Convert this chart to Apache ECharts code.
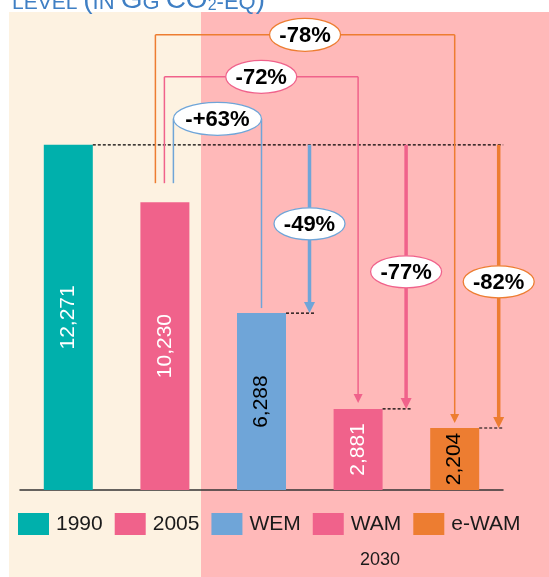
<!DOCTYPE html>
<html>
<head>
<meta charset="utf-8">
<script src="https://cdn.jsdelivr.net/npm/echarts@6/dist/echarts.min.js"></script>
<style>
html, body { margin: 0; padding: 0; background: #fff; }
#main { width: 549px; height: 577px; }
</style>
</head>
<body>
<div id="main"></div>
<script>
// values in Gg CO2-eq
var categories = ['1990', '2005', 'WEM', 'WAM', 'e-WAM'];
var emissions = [12271, 10230, 6288, 2881, 2204];
var barColors = ['#00b0ac', '#f0628b', '#6fa5d8', '#f0628b', '#ed7d31'];
var labelColors = ['#fff', '#fff', '#000', '#fff', '#000'];
// reductions of the 2030 scenarios (WEM, WAM, e-WAM)
var vs1990 = ['-49%', '-77%', '-82%'];
var vs2005 = ['-+63%', '-72%', '-78%'];
var groupLabel = '2030';

var FONT = '"Liberation Sans", Arial, sans-serif';

var chart = echarts.init(document.getElementById('main'));

var series = categories.map(function (name, i) {
  var d = categories.map(function (c, j) { return j === i ? emissions[i] : '-'; });
  return {
    name: name,
    type: 'bar',
    stack: 'all',
    barWidth: 49,
    data: d,
    itemStyle: { color: barColors[i] },
    label: {
      show: true,
      position: 'inside',
      rotate: 90,
      fontSize: 21,
      fontFamily: FONT,
      color: labelColors[i],
      formatter: function (p) { return Number(p.value).toLocaleString('en-US'); }
    }
  };
});

var option = {
  animation: false,
  textStyle: { fontFamily: FONT },
  grid: { left: 20, right: 46, top: 68, bottom: 87 },
  xAxis: {
    type: 'category',
    data: categories,
    axisLine: { show: true, lineStyle: { color: '#333', width: 1.5 } },
    axisTick: { show: false },
    axisLabel: { show: false }
  },
  yAxis: { type: 'value', min: 0, max: 15000, show: false },
  legend: {
    data: categories,
    left: 18,
    top: 513,
    padding: 0,
    icon: 'rect',
    itemWidth: 31,
    itemHeight: 22,
    itemGap: 12,
    textStyle: { fontSize: 21, color: '#1a1a1a', fontFamily: FONT, padding: [0, 0, 0, 2] }
  },
  series: series
};
chart.setOption(option);

// annotations placed from the axis scales
var pts = emissions.map(function (v, i) { return chart.convertToPixel({ gridIndex: 0 }, [i, v]); });
var g = [];
g.push({ type: 'rect', z: -10, shape: { x: 9, y: 12, width: 192, height: 565 }, style: { fill: '#fdf2e1' } });
g.push({ type: 'rect', z: -10, shape: { x: 201, y: 12, width: 348, height: 565 }, style: { fill: '#ffb9b9' } });

function line(x1, y1, x2, y2, color, w, dash) {
  g.push({ type: 'line', z: 20, shape: { x1: x1, y1: y1, x2: x2, y2: y2 },
    style: { stroke: color, lineWidth: w, lineDash: dash || null } });
}
function head(x, y, color, w, h) {
  g.push({ type: 'polygon', z: 20, shape: { points: [[x - w / 2, y - h], [x + w / 2, y - h], [x, y]] },
    style: { fill: color } });
}
function bubble(cx, cy, rx, ry, color, text) {
  g.push({ type: 'ellipse', z: 21, shape: { cx: cx, cy: cy, rx: rx, ry: ry },
    style: { fill: '#fff', stroke: color, lineWidth: 1.3 } });
  g.push({ type: 'text', z: 22, x: cx, y: cy + 1,
    style: { text: text, fill: '#000', font: 'bold 22px ' + FONT, textAlign: 'center', textVerticalAlign: 'middle' } });
}

var y0 = pts[0][1];
var half = 24.5;
line(pts[0][0] + half, y0, pts[4][0] + 48.5, y0, '#000', 1.2, [3, 2]);

var thickOff = [48, 48, 44];
var bubbleDy = [79, 127, 137];
var leftOff = [8.5, -0.5, -9.5];
var bracketDy = [-26, -68, -110];
var tipGap = [5, 6, 5];
var bubbleRx = [44, 35.5, 35.5];

for (var i = 2; i < 5; i++) {
  var k = i - 2;
  var c = barColors[i];
  // from 2005
  var lx = pts[1][0] + leftOff[k];
  var ly = pts[1][1] - 19;
  var by = y0 + bracketDy[k];
  var rx = pts[i][0];
  var tip = pts[i][1] - tipGap[k];
  line(lx, ly, lx, by, c, 1.5);
  line(lx, by, rx, by, c, 1.5);
  if (k === 0) {
    line(rx, by, rx, tip, c, 1.5);
  } else {
    line(rx, by, rx, tip - 8, c, 1.5);
    head(rx, tip, c, 9, 9);
  }
  bubble((lx + rx) / 2, by, bubbleRx[k], 16.5, c, vs2005[k]);

  // from 1990
  var ax = pts[i][0] + thickOff[k];
  line(pts[i][0] + half, pts[i][1], ax + 5, pts[i][1], '#000', 1.2, [3, 2]);
  line(ax, y0, ax, pts[i][1] - 9, c, 3.5);
  head(ax, pts[i][1], c, 11, 11);
  bubble(ax, y0 + bubbleDy[k], 35.5, 16, c, vs1990[k]);
}

g.push({ type: 'text', z: 22, x: 380, y: 560,
  style: { text: groupLabel, fill: '#1a1a1a', font: '18px ' + FONT, textAlign: 'center', textVerticalAlign: 'middle' } });

g.push({ type: 'text', z: 22, x: 12, y: 14,
  style: {
    text: '{s|LEVEL }{b|(}{m|IN }{b|G}{m|G }{b|CO}{u|2}{m|-EQ}{b|)}',
    textVerticalAlign: 'bottom',
    fill: '#3f7fc4',
    rich: {
      s: { fontSize: 21, fill: '#3f7fc4', fontFamily: FONT, verticalAlign: 'bottom' },
      m: { fontSize: 22, fill: '#3f7fc4', fontFamily: FONT, verticalAlign: 'bottom' },
      b: { fontSize: 28, fill: '#3f7fc4', fontFamily: FONT, verticalAlign: 'bottom' },
      u: { fontSize: 16, fill: '#3f7fc4', fontFamily: FONT, verticalAlign: 'bottom' }
    }
  } });

chart.setOption({ graphic: { elements: g } });
</script>
</body>
</html>
